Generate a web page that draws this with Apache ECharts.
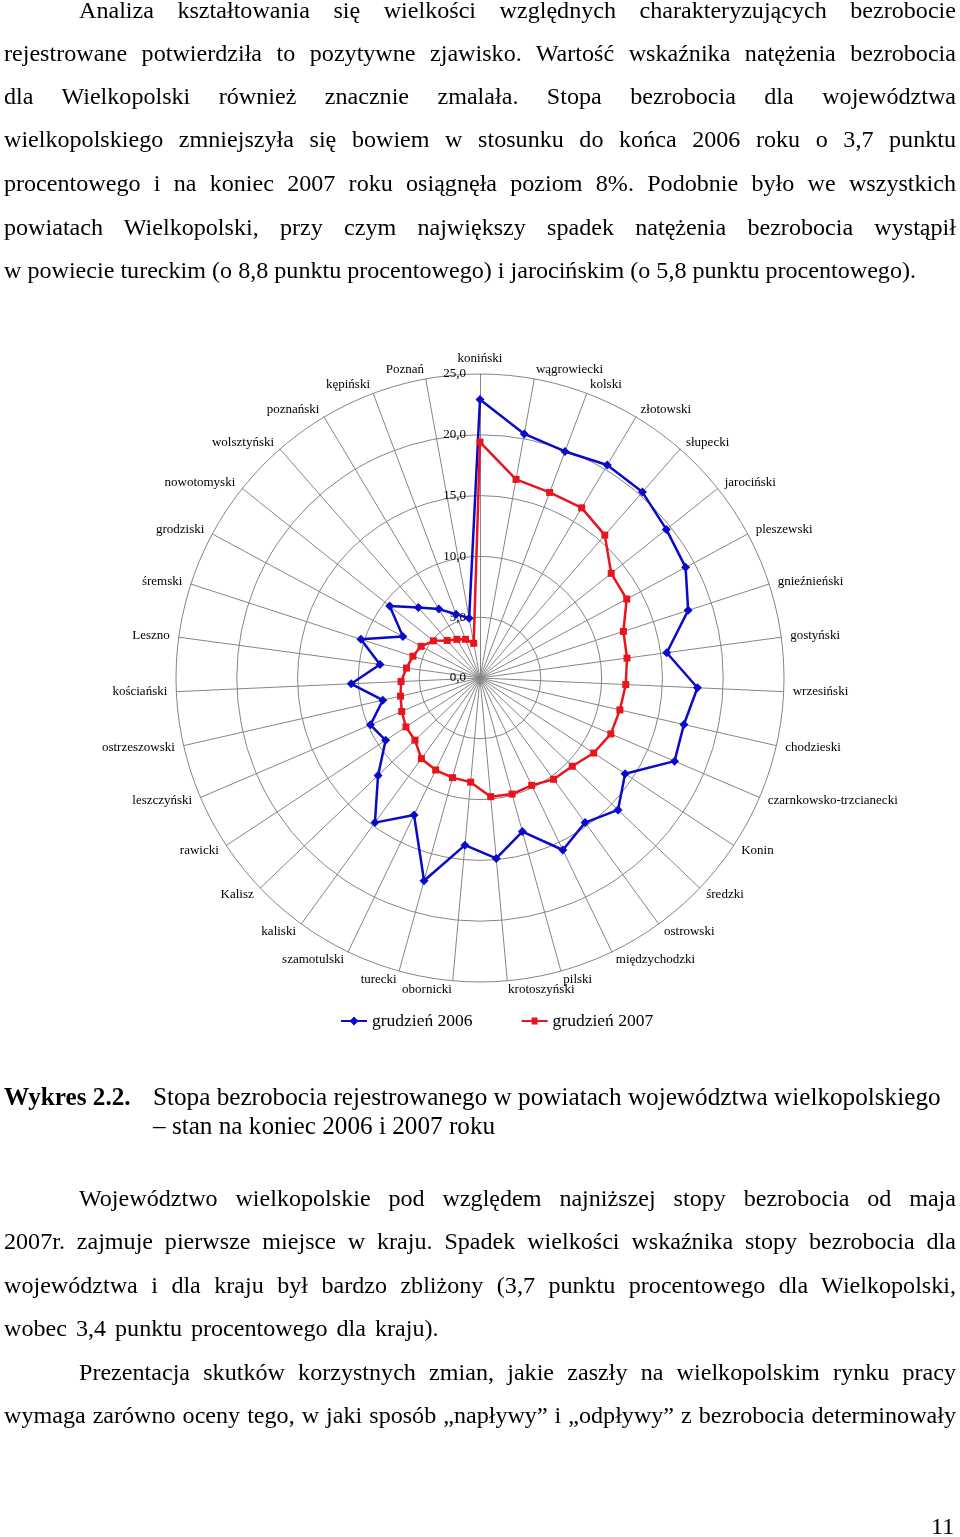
<!DOCTYPE html>
<html>
<head>
<meta charset="utf-8">
<script src="https://cdn.jsdelivr.net/npm/echarts@6/dist/echarts.min.js"></script>
<style>
  html, body { margin:0; padding:0; background:#fff; }
  #page { position:relative; width:960px; height:1537px; overflow:hidden; }
  #chart { position:absolute; left:0; top:0; width:960px; height:1537px; }
  .ln { position:absolute; font-family:"Liberation Serif","Times New Roman",serif; font-size:24.1px; line-height:30px; height:30px; color:#000; z-index:2; }
  .j { text-align:justify; text-align-last:justify; }
  .cap { font-size:25.2px; }
</style>
</head>
<body>
<div id="page">
  <div id="chart"></div>

  <div class="ln j" style="left:79px;width:877px;top:-5px">Analiza kształtowania się wielkości względnych charakteryzujących bezrobocie</div>
  <div class="ln j" style="left:4px;width:952px;top:38px">rejestrowane potwierdziła to pozytywne zjawisko. Wartość wskaźnika natężenia bezrobocia</div>
  <div class="ln j" style="left:4px;width:952px;top:81px">dla Wielkopolski również znacznie zmalała. Stopa bezrobocia dla województwa</div>
  <div class="ln j" style="left:4px;width:952px;top:124px">wielkopolskiego zmniejszyła się bowiem w stosunku do końca 2006 roku o 3,7 punktu</div>
  <div class="ln j" style="left:4px;width:952px;top:168px">procentowego i na koniec 2007 roku osiągnęła poziom 8%. Podobnie było we wszystkich</div>
  <div class="ln j" style="left:4px;width:952px;top:212px">powiatach Wielkopolski, przy czym największy spadek natężenia bezrobocia wystąpił</div>
  <div class="ln" style="left:4px;width:952px;top:255px">w powiecie tureckim (o 8,8 punktu procentowego) i jarocińskim (o 5,8 punktu procentowego).</div>

  <div class="ln cap" style="left:4px;top:1082px;font-weight:bold">Wykres 2.2.</div>
  <div class="ln cap" style="left:153px;top:1082px">Stopa bezrobocia rejestrowanego w powiatach województwa wielkopolskiego</div>
  <div class="ln cap" style="left:153px;top:1111px">– stan na koniec 2006 i 2007 roku</div>

  <div class="ln j" style="left:79px;width:877px;top:1183px">Województwo wielkopolskie pod względem najniższej stopy bezrobocia od maja</div>
  <div class="ln j" style="left:4px;width:952px;top:1226px">2007r. zajmuje pierwsze miejsce w kraju. Spadek wielkości wskaźnika stopy bezrobocia dla</div>
  <div class="ln j" style="left:4px;width:952px;top:1270px">województwa i dla kraju był bardzo zbliżony (3,7 punktu procentowego dla Wielkopolski,</div>
  <div class="ln" style="left:4px;width:952px;top:1313px;word-spacing:3px">wobec 3,4 punktu procentowego dla kraju).</div>
  <div class="ln j" style="left:79px;width:877px;top:1357px">Prezentacja skutków korzystnych zmian, jakie zaszły na wielkopolskim rynku pracy</div>
  <div class="ln j" style="left:4px;width:952px;top:1400px">wymaga zarówno oceny tego, w jaki sposób „napływy” i „odpływy” z bezrobocia determinowały</div>

  <div class="ln" style="left:931px;top:1511px">11</div>
</div>
<script>
// ---- data (clockwise from the top) ----
const categories = ['koniński','wągrowiecki','kolski','złotowski','słupecki','jarociński','pleszewski',
  'gnieźnieński','gostyński','wrzesiński','chodzieski','czarnkowsko-trzcianecki','Konin','średzki',
  'ostrowski','międzychodzki','pilski','krotoszyński','obornicki','turecki','szamotulski','kaliski',
  'Kalisz','rawicki','leszczyński','ostrzeszowski','kościański','Leszno','śremski','grodziski',
  'nowotomyski','wolsztyński','poznański','kępiński','Poznań'];
const dec2006 = [22.9,20.4,19.9,20.4,20.3,19.6,19.2,18.0,15.5,17.9,17.2,17.4,14.3,15.7,14.7,15.7,13.1,14.9,
  13.8,17.3,12.5,14.7,11.6,9.3,9.8,8.2,10.6,8.3,10.3,7.2,9.5,7.7,6.6,5.6,5.0];
const dec2007 = [19.4,16.6,16.3,16.3,15.6,13.8,13.7,12.4,12.2,12.0,11.8,11.7,11.2,10.5,10.3,9.8,9.9,9.8,
  8.6,8.5,8.4,8.2,7.4,7.3,7.0,6.7,6.5,6.1,5.8,5.5,4.9,4.1,3.7,3.4,2.9];
const seriesNames = ['grudzień 2006','grudzień 2007'];
const axisMax = 25;
const axisSplits = 5;

// ECharts radar runs counter-clockwise: reorder so the picture runs clockwise
const order = [0].concat(categories.map((_, i) => categories.length - 1 - i).slice(0, categories.length - 1));
const reorder = arr => order.map(i => arr[i]);

const FONT = '"Liberation Serif","Times New Roman",serif';
const indicator = order.map((i, k) => k === 0
  ? { name: categories[i], max: axisMax, min: 0 }
  : { name: categories[i], max: axisMax, min: 0, axisLabel: { show: false } });

const chart = echarts.init(document.getElementById('chart'), null, { renderer: 'canvas' });
const blue = '#0a0ac8', red = '#e8141e';
chart.setOption({
  animation: false,
  legend: {
    left: 336, top: 1007,
    itemWidth: 26, itemHeight: 9, itemGap: 49,
    textStyle: { fontFamily: FONT, fontSize: 17.5, color: '#000' },
    data: [
      { name: seriesNames[0], icon: 'path://M0,3.6 L9.5,3.6 L13,0 L16.5,3.6 L26,3.6 L26,5.4 L16.5,5.4 L13,9 L9.5,5.4 L0,5.4 Z' },
      { name: seriesNames[1], icon: 'path://M0,3.6 L10,3.6 L10,1 L16,1 L16,3.6 L26,3.6 L26,5.4 L16,5.4 L16,8 L10,8 L10,5.4 L0,5.4 Z' }
    ]
  },
  radar: {
    center: [480, 678],
    radius: 304,
    startAngle: 90,
    shape: 'circle',
    splitNumber: axisSplits,
    nameGap: 9,
    axisName: { color: '#000', fontFamily: FONT, fontSize: 13 },
    axisLine: { lineStyle: { color: '#858585', width: 1 } },
    splitLine: { lineStyle: { color: '#858585', width: 1 } },
    splitArea: { show: false },
    axisTick: { show: false },
    axisLabel: {
      show: true, margin: 14, color: '#000', fontFamily: FONT, fontSize: 13,
      formatter: v => Number(v).toFixed(1).replace('.', ',')
    },
    indicator: indicator
  },
  series: [
    {
      type: 'radar', name: seriesNames[0], z: 2,
      symbol: 'diamond', symbolSize: 9,
      lineStyle: { color: blue, width: 2.5 },
      itemStyle: { color: blue },
      data: [{ name: seriesNames[0], value: reorder(dec2006) }]
    },
    {
      type: 'radar', name: seriesNames[1], z: 3,
      symbol: 'rect', symbolSize: 7,
      lineStyle: { color: red, width: 2.5 },
      itemStyle: { color: red },
      data: [{ name: seriesNames[1], value: reorder(dec2007) }]
    }
  ]
});
</script>
</body>
</html>
